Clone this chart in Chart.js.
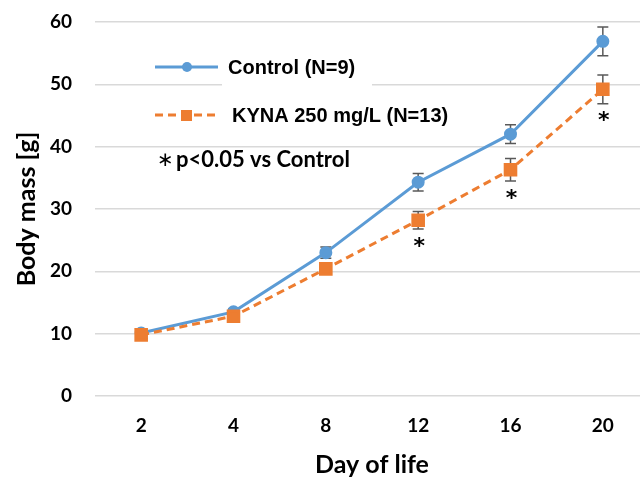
<!DOCTYPE html>
<html>
<head>
<meta charset="utf-8">
<script src="https://cdn.jsdelivr.net/npm/chart.js@4"></script>
<style>
  body { margin: 0; overflow: hidden; background: #fff; }
</style>
</head>
<body>
<canvas id="myChart" width="660" height="479"></canvas>
<script>
var days = ['2', '4', '8', '12', '16', '20'];
var control = [10.1, 13.5, 23.0, 34.3, 42.0, 56.9];
var controlErr = [0.4, 0.5, 0.9, 1.4, 1.5, 2.3];
var kyna = [9.8, 12.8, 20.4, 28.2, 36.3, 49.2];
var kynaErr = [0.3, 0.4, 0.6, 1.4, 1.8, 2.3];
var significant = [false, false, false, true, true, true];
var yTicks = [0, 10, 20, 30, 40, 50, 60];

var blue = '#5b9bd5';
var orange = '#ed7d31';
var fontName = 'Lato, "Open Sans", sans-serif';

// error bars (under the markers) and asterisks
var errorBars = {
    id: 'errorBars',
    beforeDatasetsDraw: function(chart) {
        var ctx = chart.ctx;
        var y = chart.scales.y;
        var errs = [controlErr, kynaErr];
        ctx.save();
        ctx.strokeStyle = '#595959';
        ctx.lineWidth = 1.5;
        chart.data.datasets.forEach(function(ds, i) {
            var meta = chart.getDatasetMeta(i);
            meta.data.forEach(function(pt, j) {
                var e = errs[i][j];
                var top = y.getPixelForValue(ds.data[j] + e);
                var bot = y.getPixelForValue(ds.data[j] - e);
                ctx.beginPath();
                ctx.moveTo(pt.x, top); ctx.lineTo(pt.x, bot);
                ctx.moveTo(pt.x - 5.5, top); ctx.lineTo(pt.x + 5.5, top);
                ctx.moveTo(pt.x - 5.5, bot); ctx.lineTo(pt.x + 5.5, bot);
                ctx.stroke();
            });
        });
        ctx.restore();
    },
    afterDatasetsDraw: function(chart) {
        var ctx = chart.ctx;
        var y = chart.scales.y;
        var meta2 = chart.getDatasetMeta(1);
        ctx.save();
        ctx.fillStyle = '#000';
        ctx.font = 'bold 22px "DejaVu Sans", sans-serif';
        ctx.textAlign = 'center';
        ctx.textBaseline = 'middle';
        meta2.data.forEach(function(pt, j) {
            if (significant[j]) {
                ctx.fillText('*', pt.x + 1, y.getPixelForValue(kyna[j] - kynaErr[j]) + 18);
            }
        });
        ctx.restore();
    }
};

// legend inside plot
var innerLegend = {
    id: 'innerLegend',
    afterDraw: function(chart) {
        var ctx = chart.ctx;
        ctx.save();
        ctx.fillStyle = '#fff';
        ctx.fillRect(222, 52, 150, 34);
        ctx.lineWidth = 3;
        ctx.strokeStyle = blue;
        ctx.beginPath(); ctx.moveTo(155, 67); ctx.lineTo(218, 67); ctx.stroke();
        ctx.fillStyle = blue;
        ctx.beginPath(); ctx.arc(187, 67, 5, 0, Math.PI * 2); ctx.fill();
        ctx.strokeStyle = orange;
        ctx.setLineDash([8, 5]);
        ctx.beginPath(); ctx.moveTo(155, 115); ctx.lineTo(218, 115); ctx.stroke();
        ctx.setLineDash([]);
        ctx.fillStyle = orange;
        ctx.fillRect(181, 110, 11, 11);
        ctx.fillStyle = '#000';
        ctx.font = 'bold 20px "Liberation Sans", Arial, sans-serif';
        ctx.textBaseline = 'middle';
        ctx.fillText('Control (N=9)', 228, 68);
        ctx.fillText('KYNA 250 mg/L (N=13)', 232, 116);
        ctx.font = '20px "DejaVu Sans", sans-serif';
        ctx.fillText('\u2217', 157, 161);
        ctx.font = 'bold 22px ' + fontName;
        ctx.fillText('p<0.05 vs Control', 176, 160);
        ctx.restore();
    }
};

var ctx = document.getElementById('myChart').getContext('2d');
var myChart = new Chart(ctx, {
    type: 'line',
    data: {
        labels: days,
        datasets: [{
            label: 'Control (N=9)',
            data: control,
            borderColor: blue,
            backgroundColor: blue,
            borderWidth: 3,
            pointStyle: 'circle',
            pointRadius: 5,
            tension: 0,
            order: 2
        }, {
            label: 'KYNA 250 mg/L (N=13)',
            data: kyna,
            borderColor: orange,
            backgroundColor: orange,
            borderWidth: 3,
            borderDash: [8, 5],
            pointStyle: 'rect',
            pointRadius: 7.5,
            tension: 0,
            order: 1
        }]
    },
    options: {
        responsive: false,
        animation: false,
        layout: { autoPadding: false, padding: { top: 22, right: 11, bottom: 0, left: 12 } },
        plugins: {
            legend: { display: false },
            tooltip: { enabled: false }
        },
        scales: {
            x: {
                offset: true,
                grid: { display: false, drawTicks: false },
                border: { display: false },
                afterFit: function(s) { s.height = 83; s.paddingLeft = 0; s.paddingRight = 0; },
                ticks: { color: '#000', padding: 18, font: { family: fontName, size: 19, weight: 'bold' } },
                title: { display: true, text: 'Day of life', color: '#000', padding: { top: 0, bottom: 1.5 },
                    font: { family: fontName, size: 25, weight: 'bold', lineHeight: 1 } }
            },
            y: {
                min: 0,
                max: 60,
                afterBuildTicks: function(axis) {
                    axis.ticks = yTicks.map(function(v) { return { value: v }; });
                },
                afterFit: function(s) { s.width = 83; s.paddingTop = 0; s.paddingBottom = 0; },
                grid: { color: '#d9d9d9', lineWidth: 1.5, drawTicks: false },
                border: { display: false },
                ticks: { color: '#000', padding: 23, font: { family: fontName, size: 19, weight: 'bold' } },
                title: { display: true, text: 'Body mass [g]', color: '#000', padding: { top: 0, bottom: 0 },
                    font: { family: fontName, size: 25, weight: 'bold' } }
            }
        }
    },
    plugins: [errorBars, innerLegend]
});
</script>
</body>
</html>
